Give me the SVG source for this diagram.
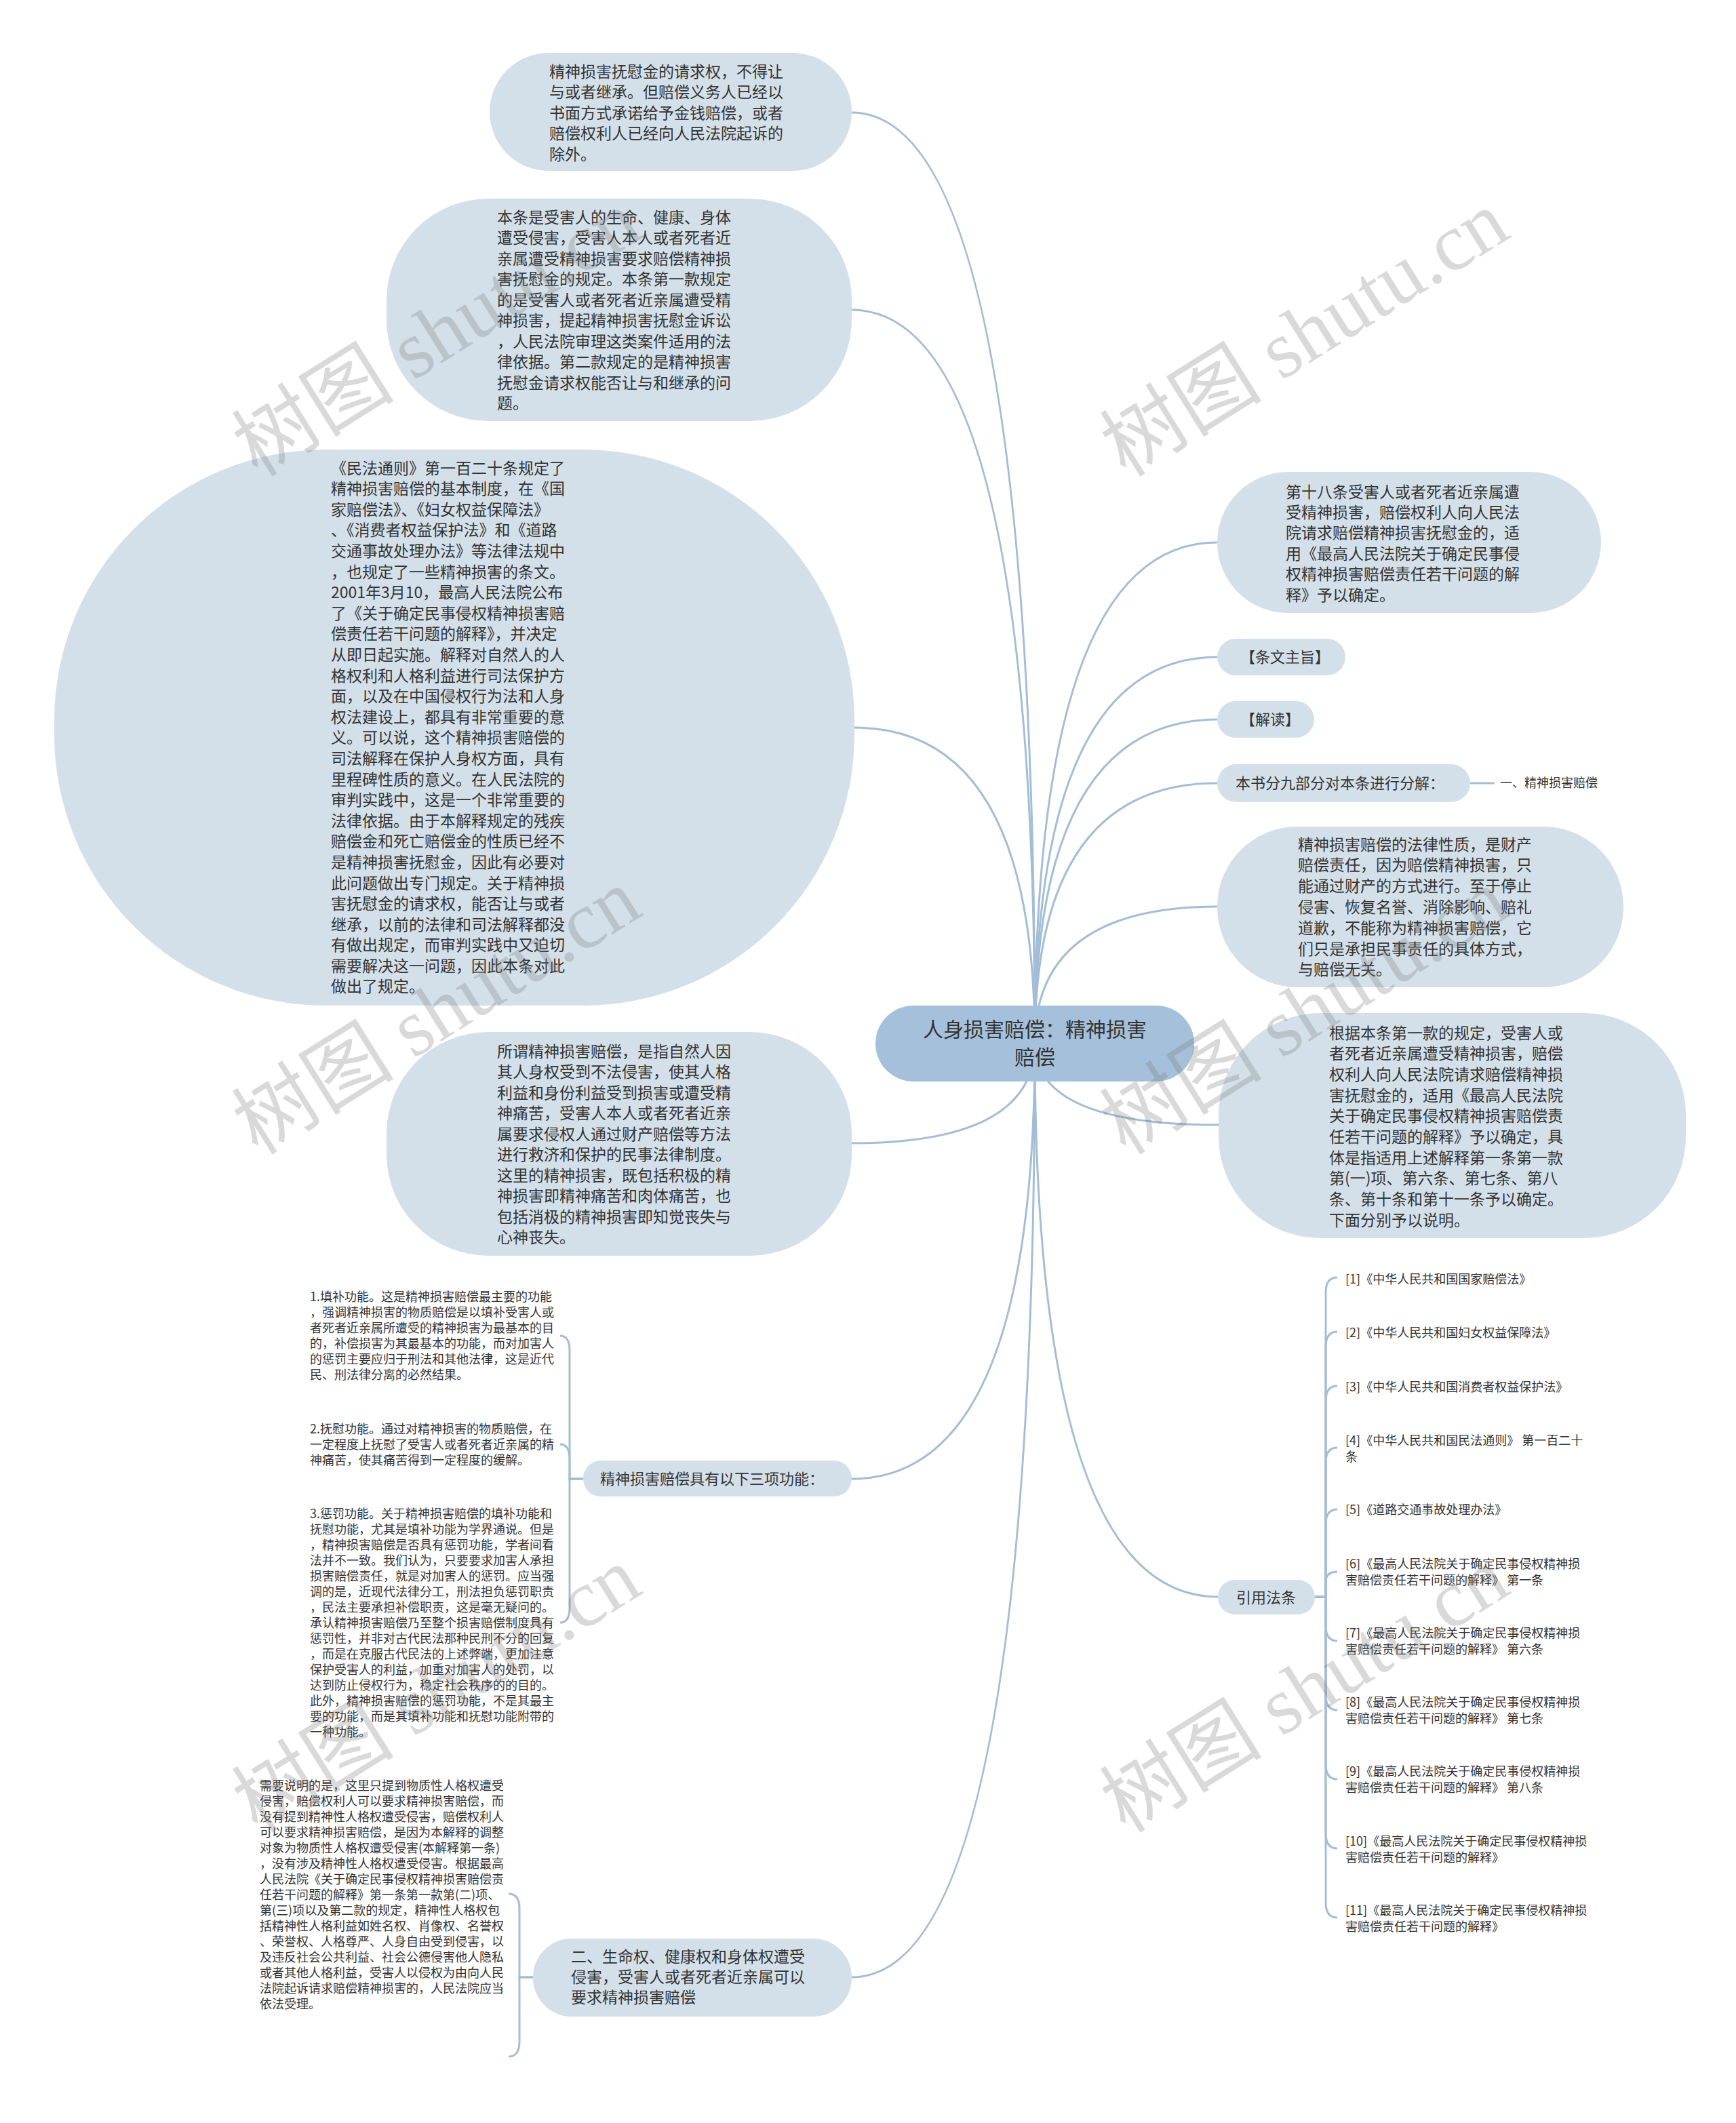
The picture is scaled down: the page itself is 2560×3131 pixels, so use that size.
<svg xmlns="http://www.w3.org/2000/svg" width="2560" height="3131" viewBox="0 0 2560 3131">
<style>
.node{fill:#d4e0e9;}
.root{fill:#a5c0da;}
.t{font-family:"Noto Sans CJK SC","Noto Sans",sans-serif;fill:#333;}
.f23{font-size:23px;}
.f22{font-size:22px;}
.f18{font-size:18px;}
.f30{font-size:30px;}
.link{fill:none;stroke:#a3bdd6;stroke-width:3;}
.wm{font-family:"Liberation Serif","Noto Sans CJK SC",serif;font-size:120px;fill:#7a7a7a;opacity:0.28;}
</style>
<rect width="2560" height="3131" fill="#ffffff"/>
<g id="connectors">
<path class="link" d="M1526 1539 Q1526 166 1256 166"/>
<path class="link" d="M1526 1539 Q1526 457 1256 457"/>
<path class="link" d="M1526 1539 Q1526 1073 1260 1073"/>
<path class="link" d="M1526 1539 Q1526 1686 1256 1686"/>
<path class="link" d="M1526 1539 Q1526 2181 1256 2181"/>
<path class="link" d="M1526 1539 Q1526 2916 1256 2916"/>
<path class="link" d="M1526 1539 Q1526 800 1795 800"/>
<path class="link" d="M1526 1539 Q1526 969 1795 969"/>
<path class="link" d="M1526 1539 Q1526 1061 1795 1061"/>
<path class="link" d="M1526 1539 Q1526 1155 1795 1155"/>
<path class="link" d="M1526 1539 Q1526 1337 1795 1337"/>
<path class="link" d="M1526 1539 Q1526 1659 1797 1659"/>
<path class="link" d="M1526 1539 Q1526 2355 1796 2355"/>
<path class="link" d="M2168 1155 H2204"/>
<path class="link" d="M860 2181 H840 V1992 Q840 1970 826 1970"/>
<path class="link" d="M860 2181 H840 V2152 Q840 2130 826 2130"/>
<path class="link" d="M860 2181 H840 V2371 Q840 2393 826 2393"/>
<path class="link" d="M786 2916 H766 V2815 Q766 2793 750 2793"/>
<path class="link" d="M786 2916 H766 V3011 Q766 3033 750 3033"/>
<path class="link" d="M1939 2355 H1955 V1906 Q1955 1884 1972 1884"/>
<path class="link" d="M1939 2355 H1955 V1986 Q1955 1964 1972 1964"/>
<path class="link" d="M1939 2355 H1955 V2066 Q1955 2044 1972 2044"/>
<path class="link" d="M1939 2355 H1955 V2157 Q1955 2135 1972 2135"/>
<path class="link" d="M1939 2355 H1955 V2248 Q1955 2226 1972 2226"/>
<path class="link" d="M1939 2355 H1955 V2333 Q1955 2318 1972 2318"/>
<path class="link" d="M1939 2355 H1955 V2398 Q1955 2420 1972 2420"/>
<path class="link" d="M1939 2355 H1955 V2500 Q1955 2522 1972 2522"/>
<path class="link" d="M1939 2355 H1955 V2602 Q1955 2624 1972 2624"/>
<path class="link" d="M1939 2355 H1955 V2704 Q1955 2726 1972 2726"/>
<path class="link" d="M1939 2355 H1955 V2806 Q1955 2828 1972 2828"/>
</g>
<g id="root">
<rect class="root" x="1291" y="1483" width="470" height="112" rx="56"/>
<text class="t f30" text-anchor="middle"><tspan x="1526" y="1529">人身损害赔偿：精神损害</tspan><tspan x="1526" y="1570">赔偿</tspan></text>
</g>
<g id="n1">
<rect class="node" x="722" y="78" width="534" height="174" rx="87"/>
<text class="t f23" x="810" y="113.5"><tspan x="810">精神损害抚慰金的请求权，不得让</tspan><tspan x="810" dy="30.5">与或者继承。但赔偿义务人已经以</tspan><tspan x="810" dy="30.5">书面方式承诺给予金钱赔偿，或者</tspan><tspan x="810" dy="30.5">赔偿权利人已经向人民法院起诉的</tspan><tspan x="810" dy="30.5">除外。</tspan></text>
</g>
<g id="n2">
<rect class="node" x="570" y="293" width="686" height="328" rx="150"/>
<text class="t f23" x="733" y="328.5"><tspan x="733">本条是受害人的生命、健康、身体</tspan><tspan x="733" dy="30.5">遭受侵害，受害人本人或者死者近</tspan><tspan x="733" dy="30.5">亲属遭受精神损害要求赔偿精神损</tspan><tspan x="733" dy="30.5">害抚慰金的规定。本条第一款规定</tspan><tspan x="733" dy="30.5">的是受害人或者死者近亲属遭受精</tspan><tspan x="733" dy="30.5">神损害，提起精神损害抚慰金诉讼</tspan><tspan x="733" dy="30.5">，人民法院审理这类案件适用的法</tspan><tspan x="733" dy="30.5">律依据。第二款规定的是精神损害</tspan><tspan x="733" dy="30.5">抚慰金请求权能否让与和继承的问</tspan><tspan x="733" dy="30.5">题。</tspan></text>
</g>
<g id="n3">
<rect class="node" x="80" y="663" width="1180" height="820" rx="400"/>
<text class="t f23" x="488" y="698.5"><tspan x="488">《民法通则》第一百二十条规定了</tspan><tspan x="488" dy="30.6">精神损害赔偿的基本制度，在《国</tspan><tspan x="488" dy="30.6">家赔偿法》、《妇女权益保障法》</tspan><tspan x="488" dy="30.6">、《消费者权益保护法》和《道路</tspan><tspan x="488" dy="30.6">交通事故处理办法》等法律法规中</tspan><tspan x="488" dy="30.6">，也规定了一些精神损害的条文。</tspan><tspan x="488" dy="30.6">2001年3月10，最高人民法院公布</tspan><tspan x="488" dy="30.6">了《关于确定民事侵权精神损害赔</tspan><tspan x="488" dy="30.6">偿责任若干问题的解释》，并决定</tspan><tspan x="488" dy="30.6">从即日起实施。解释对自然人的人</tspan><tspan x="488" dy="30.6">格权利和人格利益进行司法保护方</tspan><tspan x="488" dy="30.6">面，以及在中国侵权行为法和人身</tspan><tspan x="488" dy="30.6">权法建设上，都具有非常重要的意</tspan><tspan x="488" dy="30.6">义。可以说，这个精神损害赔偿的</tspan><tspan x="488" dy="30.6">司法解释在保护人身权方面，具有</tspan><tspan x="488" dy="30.6">里程碑性质的意义。在人民法院的</tspan><tspan x="488" dy="30.6">审判实践中，这是一个非常重要的</tspan><tspan x="488" dy="30.6">法律依据。由于本解释规定的残疾</tspan><tspan x="488" dy="30.6">赔偿金和死亡赔偿金的性质已经不</tspan><tspan x="488" dy="30.6">是精神损害抚慰金，因此有必要对</tspan><tspan x="488" dy="30.6">此问题做出专门规定。关于精神损</tspan><tspan x="488" dy="30.6">害抚慰金的请求权，能否让与或者</tspan><tspan x="488" dy="30.6">继承，以前的法律和司法解释都没</tspan><tspan x="488" dy="30.6">有做出规定，而审判实践中又迫切</tspan><tspan x="488" dy="30.6">需要解决这一问题，因此本条对此</tspan><tspan x="488" dy="30.6">做出了规定。</tspan></text>
</g>
<g id="n4">
<rect class="node" x="570" y="1522" width="686" height="330" rx="150"/>
<text class="t f23" x="733" y="1558.5"><tspan x="733">所谓精神损害赔偿，是指自然人因</tspan><tspan x="733" dy="30.5">其人身权受到不法侵害，使其人格</tspan><tspan x="733" dy="30.5">利益和身份利益受到损害或遭受精</tspan><tspan x="733" dy="30.5">神痛苦，受害人本人或者死者近亲</tspan><tspan x="733" dy="30.5">属要求侵权人通过财产赔偿等方法</tspan><tspan x="733" dy="30.5">进行救济和保护的民事法律制度。</tspan><tspan x="733" dy="30.5">这里的精神损害，既包括积极的精</tspan><tspan x="733" dy="30.5">神损害即精神痛苦和肉体痛苦，也</tspan><tspan x="733" dy="30.5">包括消极的精神损害即知觉丧失与</tspan><tspan x="733" dy="30.5">心神丧失。</tspan></text>
</g>
<g id="n5">
<rect class="node" x="1795" y="696" width="566" height="208" rx="104"/>
<text class="t f23" x="1896" y="733.5"><tspan x="1896">第十八条受害人或者死者近亲属遭</tspan><tspan x="1896" dy="30.4">受精神损害，赔偿权利人向人民法</tspan><tspan x="1896" dy="30.4">院请求赔偿精神损害抚慰金的，适</tspan><tspan x="1896" dy="30.4">用《最高人民法院关于确定民事侵</tspan><tspan x="1896" dy="30.4">权精神损害赔偿责任若干问题的解</tspan><tspan x="1896" dy="30.4">释》予以确定。</tspan></text>
</g>
<g id="n6">
<rect class="node" x="1795" y="942" width="189" height="54" rx="27"/>
<text class="t f22" x="1829" y="977">【条文主旨】</text>
</g>
<g id="n7">
<rect class="node" x="1795" y="1034" width="143" height="54" rx="27"/>
<text class="t f22" x="1829" y="1069">【解读】</text>
</g>
<g id="n8">
<rect class="node" x="1795" y="1127" width="373" height="56" rx="28"/>
<text class="t f22" x="1822" y="1163">本书分九部分对本条进行分解：</text>
</g>
<g id="n8a">
<text class="t f18" x="2212" y="1160.7">一、精神损害赔偿</text>
</g>
<g id="n9">
<rect class="node" x="1795" y="1219" width="599" height="237" rx="118"/>
<text class="t f23" x="1914" y="1253.5"><tspan x="1914">精神损害赔偿的法律性质，是财产</tspan><tspan x="1914" dy="30.8">赔偿责任，因为赔偿精神损害，只</tspan><tspan x="1914" dy="30.8">能通过财产的方式进行。至于停止</tspan><tspan x="1914" dy="30.8">侵害、恢复名誉、消除影响、赔礼</tspan><tspan x="1914" dy="30.8">道歉，不能称为精神损害赔偿，它</tspan><tspan x="1914" dy="30.8">们只是承担民事责任的具体方式，</tspan><tspan x="1914" dy="30.8">与赔偿无关。</tspan></text>
</g>
<g id="n10">
<rect class="node" x="1797" y="1494" width="689" height="332" rx="150"/>
<text class="t f23" x="1960" y="1531.5"><tspan x="1960">根据本条第一款的规定，受害人或</tspan><tspan x="1960" dy="30.7">者死者近亲属遭受精神损害，赔偿</tspan><tspan x="1960" dy="30.7">权利人向人民法院请求赔偿精神损</tspan><tspan x="1960" dy="30.7">害抚慰金的，适用《最高人民法院</tspan><tspan x="1960" dy="30.7">关于确定民事侵权精神损害赔偿责</tspan><tspan x="1960" dy="30.7">任若干问题的解释》予以确定，具</tspan><tspan x="1960" dy="30.7">体是指适用上述解释第一条第一款</tspan><tspan x="1960" dy="30.7">第(一)项、第六条、第七条、第八</tspan><tspan x="1960" dy="30.7">条、第十条和第十一条予以确定。</tspan><tspan x="1960" dy="30.7">下面分别予以说明。</tspan></text>
</g>
<g id="n11">
<rect class="node" x="860" y="2154" width="396" height="53" rx="26"/>
<text class="t f22" x="885" y="2189">精神损害赔偿具有以下三项功能：</text>
</g>
<g id="n11a">
<text class="t f18" x="457" y="1918.7"><tspan x="457">1.填补功能。这是精神损害赔偿最主要的功能</tspan><tspan x="457" dy="23.1">，强调精神损害的物质赔偿是以填补受害人或</tspan><tspan x="457" dy="23.1">者死者近亲属所遭受的精神损害为最基本的目</tspan><tspan x="457" dy="23.1">的，补偿损害为其最基本的功能，而对加害人</tspan><tspan x="457" dy="23.1">的惩罚主要应归于刑法和其他法律，这是近代</tspan><tspan x="457" dy="23.1">民、刑法律分离的必然结果。</tspan></text>
</g>
<g id="n11b">
<text class="t f18" x="457" y="2113.7"><tspan x="457">2.抚慰功能。通过对精神损害的物质赔偿，在</tspan><tspan x="457" dy="23.1">一定程度上抚慰了受害人或者死者近亲属的精</tspan><tspan x="457" dy="23.1">神痛苦，使其痛苦得到一定程度的缓解。</tspan></text>
</g>
<g id="n11c">
<text class="t f18" x="457" y="2238.7"><tspan x="457">3.惩罚功能。关于精神损害赔偿的填补功能和</tspan><tspan x="457" dy="23">抚慰功能，尤其是填补功能为学界通说。但是</tspan><tspan x="457" dy="23">，精神损害赔偿是否具有惩罚功能，学者间看</tspan><tspan x="457" dy="23">法并不一致。我们认为，只要要求加害人承担</tspan><tspan x="457" dy="23">损害赔偿责任，就是对加害人的惩罚。应当强</tspan><tspan x="457" dy="23">调的是，近现代法律分工，刑法担负惩罚职责</tspan><tspan x="457" dy="23">，民法主要承担补偿职责，这是毫无疑问的。</tspan><tspan x="457" dy="23">承认精神损害赔偿乃至整个损害赔偿制度具有</tspan><tspan x="457" dy="23">惩罚性，并非对古代民法那种民刑不分的回复</tspan><tspan x="457" dy="23">，而是在克服古代民法的上述弊端，更加注意</tspan><tspan x="457" dy="23">保护受害人的利益，加重对加害人的处罚，以</tspan><tspan x="457" dy="23">达到防止侵权行为，稳定社会秩序的的目的。</tspan><tspan x="457" dy="23">此外，精神损害赔偿的惩罚功能，不是其最主</tspan><tspan x="457" dy="23">要的功能，而是其填补功能和抚慰功能附带的</tspan><tspan x="457" dy="23">一种功能。</tspan></text>
</g>
<g id="n12">
<rect class="node" x="786" y="2859" width="470" height="115" rx="57"/>
<text class="t f23" x="842" y="2893.5"><tspan x="842">二、生命权、健康权和身体权遭受</tspan><tspan x="842" dy="30">侵害，受害人或者死者近亲属可以</tspan><tspan x="842" dy="30">要求精神损害赔偿</tspan></text>
</g>
<g id="n12a">
<text class="t f18" x="383" y="2639.7"><tspan x="383">需要说明的是，这里只提到物质性人格权遭受</tspan><tspan x="383" dy="23">侵害，赔偿权利人可以要求精神损害赔偿，而</tspan><tspan x="383" dy="23">没有提到精神性人格权遭受侵害，赔偿权利人</tspan><tspan x="383" dy="23">可以要求精神损害赔偿，是因为本解释的调整</tspan><tspan x="383" dy="23">对象为物质性人格权遭受侵害(本解释第一条)</tspan><tspan x="383" dy="23">，没有涉及精神性人格权遭受侵害。根据最高</tspan><tspan x="383" dy="23">人民法院《关于确定民事侵权精神损害赔偿责</tspan><tspan x="383" dy="23">任若干问题的解释》第一条第一款第(二)项、</tspan><tspan x="383" dy="23">第(三)项以及第二款的规定，精神性人格权包</tspan><tspan x="383" dy="23">括精神性人格利益如姓名权、肖像权、名誉权</tspan><tspan x="383" dy="23">、荣誉权、人格尊严、人身自由受到侵害，以</tspan><tspan x="383" dy="23">及违反社会公共利益、社会公德侵害他人隐私</tspan><tspan x="383" dy="23">或者其他人格利益，受害人以侵权为由向人民</tspan><tspan x="383" dy="23">法院起诉请求赔偿精神损害的，人民法院应当</tspan><tspan x="383" dy="23">依法受理。</tspan></text>
</g>
<g id="n13">
<rect class="node" x="1796" y="2330" width="143" height="51" rx="25"/>
<text class="t f22" x="1823" y="2364">引用法条</text>
</g>
<g id="c1"><text class="t f18" x="1984" y="1892.7">[1]《中华人民共和国国家赔偿法》</text></g>
<g id="c2"><text class="t f18" x="1984" y="1971.7">[2]《中华人民共和国妇女权益保障法》</text></g>
<g id="c3"><text class="t f18" x="1984" y="2051.7">[3]《中华人民共和国消费者权益保护法》</text></g>
<g id="c4"><text class="t f18" x="1984" y="2130.7"><tspan x="1984">[4]《中华人民共和国民法通则》 第一百二十</tspan><tspan x="1984" dy="24">条</tspan></text></g>
<g id="c5"><text class="t f18" x="1984" y="2232.7">[5]《道路交通事故处理办法》</text></g>
<g id="c6"><text class="t f18" x="1984" y="2312.7"><tspan x="1984">[6]《最高人民法院关于确定民事侵权精神损</tspan><tspan x="1984" dy="24">害赔偿责任若干问题的解释》 第一条</tspan></text></g>
<g id="c7"><text class="t f18" x="1984" y="2414.7"><tspan x="1984">[7]《最高人民法院关于确定民事侵权精神损</tspan><tspan x="1984" dy="24">害赔偿责任若干问题的解释》 第六条</tspan></text></g>
<g id="c8"><text class="t f18" x="1984" y="2516.7"><tspan x="1984">[8]《最高人民法院关于确定民事侵权精神损</tspan><tspan x="1984" dy="24">害赔偿责任若干问题的解释》 第七条</tspan></text></g>
<g id="c9"><text class="t f18" x="1984" y="2618.7"><tspan x="1984">[9]《最高人民法院关于确定民事侵权精神损</tspan><tspan x="1984" dy="24">害赔偿责任若干问题的解释》 第八条</tspan></text></g>
<g id="c10"><text class="t f18" x="1984" y="2721.7"><tspan x="1984">[10]《最高人民法院关于确定民事侵权精神损</tspan><tspan x="1984" dy="24">害赔偿责任若干问题的解释》</tspan></text></g>
<g id="c11"><text class="t f18" x="1984" y="2823.7"><tspan x="1984">[11]《最高人民法院关于确定民事侵权精神损</tspan><tspan x="1984" dy="24">害赔偿责任若干问题的解释》</tspan></text></g>
<g id="watermarks">
<text class="wm" transform="translate(380 705) rotate(-32)">树图 shutu.cn</text>
<text class="wm" transform="translate(1660 705) rotate(-32)">树图 shutu.cn</text>
<text class="wm" transform="translate(380 1705) rotate(-32)">树图 shutu.cn</text>
<text class="wm" transform="translate(1660 1705) rotate(-32)">树图 shutu.cn</text>
<text class="wm" transform="translate(380 2705) rotate(-32)">树图 shutu.cn</text>
<text class="wm" transform="translate(1660 2705) rotate(-32)">树图 shutu.cn</text>
</g>
</svg>
